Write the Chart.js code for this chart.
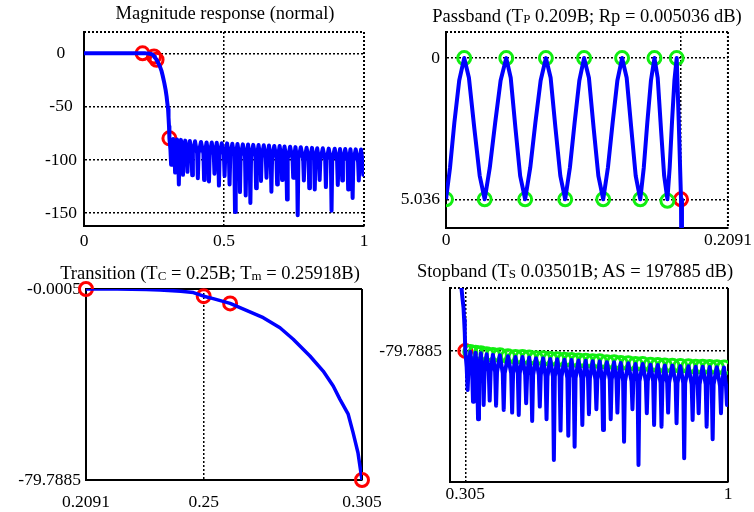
<!DOCTYPE html>
<html>
<head>
<meta charset="utf-8">
<script src="https://cdn.jsdelivr.net/npm/chart.js@4.4.0/dist/chart.umd.min.js"></script>
<style>
  body { margin: 0; background: #fff; }
  #fig { position: relative; width: 754px; height: 512px; overflow: hidden; background: #fff; }
  canvas { position: absolute; }
  .ttl { position: absolute; font-family: "Liberation Serif", serif; font-size: 18.5px; line-height: 18px;
         white-space: nowrap; transform: translateX(-50%); color: #000; }
  .ttl .s { font-size: 70%; position: relative; top: 1px; }
</style>
</head>
<body>
<div id="fig">
  <canvas id="c1" width="377" height="256" style="left:0;top:0"></canvas>
  <canvas id="c2" width="377" height="256" style="left:377px;top:0"></canvas>
  <canvas id="c3" width="400" height="256" style="left:0;top:256px"></canvas>
  <canvas id="c4" width="377" height="256" style="left:377px;top:256px"></canvas>
  <div class="ttl" style="left:225px;top:4px">Magnitude response (normal)</div>
  <div class="ttl" style="left:587px;top:7px">Passband (T<span class="s">P</span> 0.209B; Rp = 0.005036 dB)</div>
  <div class="ttl" style="left:210px;top:264px">Transition (T<span class="s">C</span> = 0.25B; T<span class="s">m</span> = 0.25918B)</div>
  <div class="ttl" style="left:575px;top:262px">Stopband (T<span class="s">S</span> 0.03501B; AS = 197885 dB)</div>
</div>
<script>
// passband ripple, attenuation in 1e-3 dB (0 = top, 5.036 = bottom)
var passF = [0.0000, 0.0030, 0.0062, 0.0098, 0.0135, 0.0170, 0.0210, 0.0250,
             0.0287, 0.0325, 0.0365, 0.0405, 0.0447, 0.0480, 0.0515, 0.0550,
             0.0587, 0.0625, 0.0663, 0.0702, 0.0741, 0.0776, 0.0812, 0.0848,
             0.0884, 0.0919, 0.0954, 0.0989, 0.1024, 0.1060, 0.1095, 0.1130,
             0.1166, 0.1201, 0.1236, 0.1271, 0.1306, 0.1340, 0.1374, 0.1407,
             0.1441, 0.1467, 0.1493, 0.1520, 0.1546, 0.1570, 0.1594, 0.1618,
             0.1642, 0.1659, 0.1676, 0.1694, 0.1711, 0.1727, 0.1743, 0.1750];
var passAtt = [5.036, 3.9, 2.3, 0.8, 0, 0.7, 2.5, 4.2,
               5.036, 3.9, 2.3, 0.8, 0, 0.7, 2.5, 4.2,
               5.036, 3.9, 2.3, 0.8, 0, 0.7, 2.5, 4.2,
               5.036, 3.9, 2.3, 0.8, 0, 0.7, 2.5, 4.2,
               5.036, 3.9, 2.3, 0.8, 0, 0.7, 2.5, 4.2,
               5.036, 3.9, 2.3, 0.8, 0, 0.7, 2.5, 4.2,
               5.036, 3.9, 2.3, 0.8, 0, 2.4, 5.036, 12];
var passMarkF = [0, 0.0135, 0.0287, 0.0447, 0.0587, 0.0741, 0.0884, 0.1024,
                 0.1166, 0.1306, 0.1441, 0.1546, 0.1642, 0.1711];
var passMarkAtt = [5.036, 0, 5.036, 0, 5.036, 0, 5.036, 0,
                   5.036, 0, 5.036, 0, 5.09, 0];
var passEdgeF = [0.1743];
var passEdgeAtt = [5.036];

// transition band (dB)
var transF = [0.2091, 0.2200, 0.2300, 0.2348, 0.2420, 0.2464, 0.2500, 0.2533,
              0.25918, 0.2626, 0.2707, 0.2765, 0.2811, 0.2869, 0.2915, 0.2950,
              0.2973, 0.3002, 0.3019, 0.3036, 0.3050];
var transDb = [-0.0005, -0.05, -0.2, -0.4, -0.9, -1.5, -3.01, -4.0,
               -6.02, -7.8, -12, -16.2, -21, -28, -34.3, -40.5,
               -46, -52.3, -60, -68.4, -79.7885];
var edgeF = [0.2091, 0.25, 0.25918, 0.305];
var edgeDb = [-0.0005, -3.01, -6.02, -79.7885];

// stopband nulls (spikes), lobe shoulders next to each null, and lobe peaks (dB)
var stopNullF = [0.3111, 0.3254, 0.3387, 0.3535, 0.3695, 0.3864, 0.4066, 0.4289, 0.4464, 0.4660,
                 0.4819, 0.5021, 0.5199, 0.5393, 0.5570, 0.5775, 0.5942, 0.6146, 0.6321, 0.6518,
                 0.6693, 0.6897, 0.7074, 0.7250, 0.7472, 0.7632, 0.7852, 0.8045, 0.8241, 0.8416,
                 0.8639, 0.8841, 0.9064, 0.9223, 0.9435, 0.9594, 0.9814, 0.9973];
var stopNullDb = [-104.5, -111.9, -123.0, -114.0, -111.2, -114.4, -117.1, -118.8, -120.3, -112.9,
                  -124.1, -115.0, -123.0, -148.8, -130.2, -133.4, -140.4, -126.6, -119.8, -116.7,
                  -129.8, -123.0, -118.8, -137.2, -116.7, -151.9, -119.2, -126.6, -127.7, -118.8,
                  -125.5, -147.7, -123.5, -119.2, -127.7, -135.7, -119.2, -114.0];
var stopShoulderDb = [-90, -91, -92, -92, -93, -93, -94, -94, -94, -95,
                      -95, -95, -96, -96, -96, -97, -97, -97, -97, -98,
                      -98, -98, -98, -99, -99, -99, -99, -99, -100, -100,
                      -100, -100, -101, -101, -101, -101, -102, -102];
var stopPeakF = [0.3183, 0.3321, 0.3461, 0.3615, 0.3780, 0.3965, 0.4178, 0.4377, 0.4562, 0.4740,
                 0.4920, 0.5110, 0.5296, 0.5482, 0.5673, 0.5859, 0.6044, 0.6234, 0.6420, 0.6606,
                 0.6795, 0.6986, 0.7162, 0.7361, 0.7552, 0.7742, 0.7949, 0.8143, 0.8329, 0.8528,
                 0.8740, 0.8953, 0.9144, 0.9329, 0.9515, 0.9704, 0.9894];
var stopPeakDb = [-80.4, -80.9, -81.2, -81.9, -82.3, -82.5, -83.2, -83.6, -83.7, -83.9,
                  -84.4, -84.5, -84.9, -85.0, -85.4, -85.5, -85.9, -86.0, -86.3, -86.4,
                  -86.9, -87.0, -87.5, -87.6, -88.0, -88.1, -88.6, -88.7, -89.0, -89.1,
                  -89.4, -89.5, -89.8, -89.8, -90.0, -90.1, -90.3];
var shoulderGap = 0.0025;

var BLUE = '#0000ff', RED = '#ff0000', GREEN = '#11ee11';
var FONT = 'Liberation Serif';

function pts(xs, ys) {
    var out = [];
    for (let i = 0; i < xs.length; i++) out.push({x: xs[i], y: ys[i]});
    return out;
}

var transPts = pts(transF, transDb);
var stopPts = [];
for (let i = 0; i < stopNullF.length; i++) {
    stopPts.push({x: stopNullF[i] - shoulderGap, y: stopShoulderDb[i]});
    stopPts.push({x: stopNullF[i], y: stopNullDb[i]});
    stopPts.push({x: stopNullF[i] + shoulderGap, y: stopShoulderDb[i]});
    if (i < stopPeakF.length) stopPts.push({x: stopPeakF[i], y: stopPeakDb[i]});
}
// passband in dB for the full view
var passDbPts = pts(passF, passAtt.map(v => -v / 1000));

function lineDs(data, w) {
    return {data: data, showLine: true, borderColor: BLUE, borderWidth: w, pointRadius: 0,
            pointHoverRadius: 0, borderJoinStyle: 'round', tension: 0, clip: 0};
}
function markDs(data, color, clip) {
    return {data: data, showLine: false, pointRadius: 6.5, pointHoverRadius: 6.5, pointBorderWidth: 3,
            pointBorderColor: color, pointBackgroundColor: 'rgba(0,0,0,0)', clip: clip};
}

// top / right edges of the box
var framePlugin = {
    id: 'frame',
    beforeDatasetsDraw(chart, args, opts) {
        const a = chart.chartArea, ctx = chart.ctx;
        ctx.save();
        ctx.strokeStyle = '#000';
        ctx.lineWidth = 2;
        ctx.setLineDash(opts.topDash || []);
        ctx.beginPath(); ctx.moveTo(a.left, a.top); ctx.lineTo(a.right, a.top); ctx.stroke();
        ctx.setLineDash(opts.rightDash || []);
        ctx.beginPath(); ctx.moveTo(a.right, a.top); ctx.lineTo(a.right, a.bottom); ctx.stroke();
        ctx.restore();
    }
};

function axis(a, isX) {
    return {
        type: 'linear', min: a.min, max: a.max, reverse: !!a.reverse,
        afterBuildTicks: s => { s.ticks = a.ticks.map(v => ({value: v})); },
        afterFit: s => { if (isX) s.height = a.size; else s.width = a.size; },
        ticks: {
            callback: (v, i) => a.labels ? a.labels[i] : String(a.ticks[i]),
            font: {family: FONT, size: 17.5}, color: '#000', padding: a.pad,
            crossAlign: a.cross || 'near', maxRotation: 0, autoSkip: false
        },
        grid: {color: '#000', lineWidth: 1.5, drawTicks: false},
        border: {display: true, color: '#000', width: 2, dash: [2, 2]}
    };
}

function drawChart(id, datasets, pad, xa, ya, frame) {
    return new Chart(document.getElementById(id), {
        type: 'scatter',
        data: {datasets: datasets},
        options: {
            responsive: false, animation: false, devicePixelRatio: 1,
            layout: {padding: pad},
            plugins: {legend: {display: false}, tooltip: {enabled: false}, frame: frame},
            scales: {x: axis(xa, true), y: axis(ya, false)}
        },
        plugins: [framePlugin]
    });
}

// 1: full magnitude response
drawChart('c1',
    [lineDs(passDbPts.concat(transPts, stopPts), 4), markDs(pts(edgeF, edgeDb), RED, false)],
    {top: 32, right: 13, left: 0, bottom: 0},
    {min: 0, max: 1, ticks: [0, 0.5, 1], size: 30, pad: 5},
    {min: -162, max: 20, ticks: [-150, -100, -50, 0], size: 84, pad: 7, cross: 'center'},
    {topDash: [2, 2], rightDash: [2, 2]});

// 2: passband detail
drawChart('c2',
    [lineDs(pts(passF, passAtt), 4), markDs(pts(passMarkF, passMarkAtt), GREEN, 0),
     markDs(pts(passEdgeF, passEdgeAtt), RED, 0)],
    {top: 32, right: 24, left: 0, bottom: 0},
    {min: 0, max: 0.2091, ticks: [0, 0.1743, 0.2091], labels: ['0', '', '0.2091'], size: 28, pad: 2},
    {min: -0.93, max: 6.06, reverse: true, ticks: [0, 5.036], size: 69, pad: 6},
    {topDash: [2, 2], rightDash: [2, 2]});

// 3: transition band
drawChart('c3',
    [lineDs(transPts, 3.5), markDs(pts(edgeF, edgeDb), RED, false)],
    {top: 33, right: 38, left: 0, bottom: 0},
    {min: 0.2091, max: 0.305, ticks: [0.2091, 0.25, 0.305], size: 32, pad: 12},
    {min: -79.7885, max: -0.0005, ticks: [-79.7885, -0.0005], size: 86, pad: 5},
    {});

// 4: stopband detail
drawChart('c4',
    [lineDs(transPts.concat(stopPts), 4), markDs(pts(stopPeakF, stopPeakDb), GREEN, 0),
     markDs(pts([0.305], [-79.7885]), RED, 0)],
    {top: 32, right: 26, left: 0, bottom: 0},
    {min: 0.2645, max: 1, ticks: [0.305, 1], size: 30, pad: 2},
    {min: -162.7, max: -40, ticks: [-79.7885], size: 73, pad: 8},
    {topDash: [2, 2]});
</script>
</body>
</html>
